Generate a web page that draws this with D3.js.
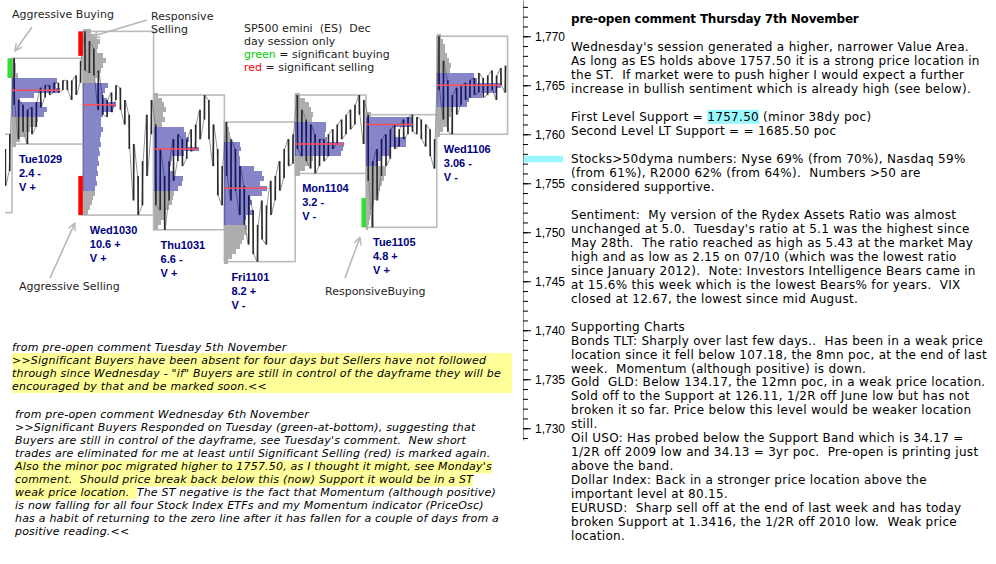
<!DOCTYPE html>
<html>
<head>
<meta charset="utf-8">
<script src="https://cdn.jsdelivr.net/npm/d3@7"></script>
<style>
  body { margin: 0; background: #fff; }
  svg { display: block; }
</style>
</head>
<body>
<div id="chart"></div>
<script>
// ES Dec day sessions, 16 bars per session
const days = ["Mon1028", "Tue1029", "Wed1030", "Thu1031", "Fri1101", "Mon1104", "Tue1105", "Wed1106"];
const dayHigh = [1760, 1767.75, 1770.5, 1764, 1761.25, 1764, 1762, 1770];
const dayLow = [1752, 1759, 1751.75, 1750.25, 1747, 1756, 1750.5, 1760];
const dayRange = ["", "2.4 -", "10.6 +", "6.6 -", "8.2 +", "3.2 -", "4.8 +", "3.06 -"];
const dayValue = ["", "V +", "V +", "V +", "V -", "V -", "V +", "V -"];

const barFirst = [14, 0, 0, 0, 0, 0, 0, 0];
const barHigh = [
  [1758.5, 1760],
  [1767.75, 1763.5, 1763, 1762.5, 1762.75, 1763.25, 1764.75, 1765, 1765, 1765.25, 1765.25, 1765.5, 1765.5, 1765.5, 1766, 1767.5],
  [1770.5, 1769.5, 1768.75, 1766.5, 1764, 1763.5, 1764.25, 1765, 1764.75, 1763.5, 1762, 1759, 1755.75, 1757.25, 1762, 1763.5],
  [1761, 1758.5, 1755.75, 1757.25, 1759.5, 1760, 1759.5, 1759.5, 1760.5, 1761, 1762.5, 1764, 1763.5, 1761, 1758.5, 1756.75],
  [1761.25, 1759.5, 1758.5, 1756.75, 1754.75, 1753.75, 1752.25, 1750.75, 1753.25, 1752.75, 1755.25, 1755.75, 1757.25, 1758.5, 1759.5, 1760],
  [1764, 1762.5, 1761.5, 1761, 1760, 1759.5, 1759.5, 1760, 1760.5, 1761, 1761.5, 1762, 1762.5, 1763, 1764, 1763.5],
  [1762, 1757.25, 1758.5, 1759.5, 1760, 1760.5, 1761, 1760.5, 1761.5, 1761.75, 1762, 1761.75, 1761.5, 1761, 1760.5, 1759.5],
  [1770, 1767.5, 1765.5, 1764, 1764.75, 1765, 1765.25, 1765.5, 1765.75, 1766.25, 1765.75, 1766, 1766.5, 1766, 1766.75, 1767]
];
const barLow = [
  [1754.75, 1756.25],
  [1763, 1759.5, 1760.25, 1759, 1760, 1760.75, 1762.75, 1763.75, 1764, 1764.25, 1764.25, 1764.5, 1764.5, 1763.5, 1764, 1765.25],
  [1766.5, 1766.25, 1766, 1762.5, 1762, 1761.75, 1762.25, 1763.5, 1762.5, 1761, 1758.5, 1753.25, 1751.75, 1752.75, 1755.75, 1760],
  [1752.75, 1752.25, 1750.25, 1753.25, 1755.25, 1757.25, 1756.75, 1757.5, 1758.25, 1758.5, 1759.5, 1761.5, 1759.5, 1756.75, 1753.75, 1752.75],
  [1755.75, 1753.25, 1754.25, 1751.75, 1750.75, 1748.75, 1747.75, 1747, 1749.25, 1748.75, 1751.75, 1753.25, 1754.25, 1755.5, 1756.75, 1757],
  [1758.5, 1757.75, 1757.25, 1756.5, 1756, 1756.75, 1757.25, 1757.75, 1758.5, 1759, 1759.5, 1760, 1760.5, 1761, 1762, 1759],
  [1755.25, 1750.5, 1753.25, 1755.75, 1756.75, 1757.5, 1758.5, 1758.75, 1759.5, 1760, 1760.25, 1760, 1759.5, 1758.75, 1757.75, 1756.5],
  [1764.5, 1761.5, 1760.25, 1760, 1762, 1763, 1763.5, 1763.75, 1764, 1764.25, 1763.75, 1764, 1764.5, 1763.5, 1765, 1764.25]
];

// market profile, half point rows from profileTop downwards
const profileTop = [null, 1767.5, 1770.5, 1764, 1761, 1764, 1762, 1770];
const profileVol = [
  [],
  [1.5, 2, 2, 3, 22.5, 22, 24, 11, 4, 15, 17.5, 16, 13, 12, 9, 7, 4, 2],
  [4, 7, 8.5, 7.5, 7, 10, 11.5, 10, 9, 7, 6, 12.5, 11, 10, 12, 16.5, 15, 10, 9, 9, 10, 9, 8.5, 9, 8, 8.5, 7.5, 8, 7, 7.5, 6.5, 7, 6, 6, 5, 4.5, 3.5, 2.5],
  [2, 4, 5, 6, 4.5, 5.5, 4, 15, 16, 17.5, 16.5, 22.5, 15, 9, 8.5, 8, 10, 14.5, 14, 12, 10, 9.5, 9, 7.5, 6, 5, 3.5, 2],
  [1.5, 2.5, 3, 3.5, 8, 8.5, 7.5, 8, 8, 15, 19, 20, 18, 21.5, 19, 13, 14, 13, 14.5, 11, 10, 11.5, 11, 10, 9, 8, 6, 4, 2],
  [2.5, 5, 7, 8, 9, 8.5, 15.5, 15.5, 15, 16, 24.5, 24, 23, 9, 7.5, 5, 2.5],
  [2.5, 23, 23.5, 14, 14, 20, 20, 12, 12, 7.5, 6, 10, 10, 9, 8, 7, 6, 5, 4, 3, 2.5, 2, 1.5, 1],
  [2, 3, 4, 4, 5, 6, 7, 6.5, 18.5, 20, 32, 30, 22.5, 16, 15, 8, 7, 6, 5, 3, 1.5]
];
const poc = [null, 1764.5, 1763, 1758.5, 1754.5, 1759, 1761, 1765];
const vaHigh = [null, 1765.75, 1765.25, 1760.75, 1759.25, 1761.25, 1761.75, 1766.25];
const vaLow = [null, 1761.75, 1754.25, 1754.25, 1750.75, 1757.75, 1756.75, 1762.75];

// significant buying / selling marks
const sigDay = ["Tue1029", "Wed1030", "Wed1030", "Tue1105"];
const sigTop = [1767.75, 1770.5, 1755.75, 1753.5];
const sigBottom = [1765.75, 1768, 1751.75, 1750.5];
const sigColor = ["#33dd33", "#ff0000", "#ff0000", "#33dd33"];

const priceTicks = d3.range(1729, 1774);
const priceLabels = d3.range(1730, 1771, 5);
const supportLevel = 1757.5;

const legendLines = ["SP500 emini  (ES)  Dec", "day session only", "green = significant buying", "red = significant selling"];

const noteTue = [
  "from pre-open comment Tuesday 5th November",
  ">>Significant Buyers have been absent for four days but Sellers have not followed",
  "through since Wednesday - \"if\" Buyers are still in control of the dayframe they will be",
  "encouraged by that and be marked soon.<<"
];
const noteWed = [
  "from pre-open comment Wednesday 6th November",
  ">>Significant Buyers Responded on Tuesday (green-at-bottom), suggesting that",
  "Buyers are still in control of the dayframe, see Tuesday's comment.  New short",
  "trades are eliminated for me at least until Significant Selling (red) is marked again.",
  "Also the minor poc migrated higher to 1757.50, as I thought it might, see Monday's",
  "comment.  Should price break back below this (now) Support it would be in a ST",
  "weak price location.  The ST negative is the fact that Momentum (although positive)",
  "is now falling for all four Stock Index ETFs and my Momentum indicator (PriceOsc)",
  "has a habit of returning to the zero line after it has fallen for a couple of days from a",
  "positive reading.<<"
];
const noteWedMarked = [0, 0, 0, 0, 82, 78, 22, 0, 0, 0];

const comment = [
  "pre-open comment Thursday 7th November",
  "",
  "Wednesday's session generated a higher, narrower Value Area.",
  "As long as ES holds above 1757.50 it is a strong price location in",
  "the ST.  If market were to push higher I would expect a further",
  "increase in bullish sentiment which is already high (see below).",
  "",
  "First Level Support = 1757.50 (minor 38dy poc)",
  "Second Level LT Support = = 1685.50 poc",
  "",
  "Stocks>50dyma numbers: Nyse 69% (from 70%), Nasdaq 59%",
  "(from 61%), R2000 62% (from 64%).  Numbers >50 are",
  "considered supportive.",
  "",
  "Sentiment:  My version of the Rydex Assets Ratio was almost",
  "unchanged at 5.0.  Tuesday's ratio at 5.1 was the highest since",
  "May 28th.  The ratio reached as high as 5.43 at the market May",
  "high and as low as 2.15 on 07/10 (which was the lowest ratio",
  "since January 2012).  Note: Investors Intelligence Bears came in",
  "at 15.6% this week which is the lowest Bears% for years.  VIX",
  "closed at 12.67, the lowest since mid August.",
  "",
  "Supporting Charts",
  "Bonds TLT: Sharply over last few days..  Has been in a weak price",
  "location since it fell below 107.18, the 8mn poc, at the end of last",
  "week.  Momentum (although positive) is down.",
  "Gold  GLD: Below 134.17, the 12mn poc, in a weak price location.",
  "Sold off to the Support at 126.11, 1/2R off June low but has not",
  "broken it so far. Price below this level would be weaker location",
  "still.",
  "Oil USO: Has probed below the Support Band which is 34.17 =",
  "1/2R off 2009 low and 34.13 = 3yr poc.  Pre-open is printing just",
  "above the band.",
  "Dollar Index: Back in a stronger price location above the",
  "important level at 80.15.",
  "EURUSD:  Sharp sell off at the end of last week and has today",
  "broken Support at 1.3416, the 1/2R off 2010 low.  Weak price",
  "location."
];

const width = 996, height = 564;

const svg = d3.select("#chart")
  .append("svg")
  .attr("width", width)
  .attr("height", height)
  .attr("viewBox", [0, 0, width, height]);

svg.append("rect").attr("width", width).attr("height", height).attr("fill", "#fff");

const x = d3.scaleBand()
  .domain(days)
  .range([-58.8, 507.6]);

const bx = d3.scaleLinear()
  .domain([0, 16])
  .range([0, x.bandwidth()]);

const y = d3.scaleLinear()
  .domain([1728.8, 1773.7])
  .range([440, 0]);

const w = d3.scaleLinear()
  .domain([0, 10])
  .range([0, 20]);

svg.append("clipPath").attr("id", "plot")
  .append("rect").attr("x", 5).attr("y", 0).attr("width", 511).attr("height", 340);

const plot = svg.append("g").attr("clip-path", "url(#plot)");

// day range boxes
plot.selectAll(".box")
  .data(days)
  .join("rect")
  .attr("class", "box")
  .attr("x", d => x(d))
  .attr("y", (d, i) => y(dayHigh[i]))
  .attr("width", x.bandwidth())
  .attr("height", (d, i) => y(dayLow[i]) - y(dayHigh[i]))
  .attr("fill", "none")
  .attr("stroke", "#bcbcbc")
  .attr("stroke-width", 1.6);

let rows = [];
days.forEach((d, i) => {
  profileVol[i].forEach((v, k) => {
    const p = profileTop[i] - 0.5 * k;
    rows.push({ day: d, p: p, v: v, va: p <= vaHigh[i] && p >= vaLow[i] });
  });
});

const rowRect = sel => sel
  .attr("x", d => x(d.day))
  .attr("y", d => y(d.p + 0.25))
  .attr("width", d => w(d.v))
  .attr("height", d => y(d.p - 0.25) - y(d.p + 0.25))
  .attr("shape-rendering", "crispEdges");

plot.append("g").selectAll("rect")
  .data(rows.filter(d => !d.va))
  .join("rect")
  .call(rowRect)
  .attr("fill", "#adadad");

// price bars
let bars = [];
days.forEach((d, i) => {
  barHigh[i].forEach((h, k) => {
    bars.push({ x: x(d) + bx(barFirst[i] + k + 0.5), hi: h, lo: barLow[i][k] });
  });
});

// zig-zag trace hi -> lo -> next hi gives the dense tick look
let zig = [];
bars.forEach((b, k) => {
  if (k % 2) { zig.push([b.x - 0.6, y(b.lo)], [b.x + 0.6, y(b.hi)]); }
  else { zig.push([b.x - 0.6, y(b.hi)], [b.x + 0.6, y(b.lo)]); }
});

plot.append("path")
  .datum(zig)
  .attr("fill", "none")
  .attr("stroke", "#7a7a7a")
  .attr("stroke-width", 0.8)
  .attr("d", d3.line());

plot.append("g").selectAll("line")
  .data(bars)
  .join("line")
  .attr("x1", b => b.x)
  .attr("x2", b => b.x)
  .attr("y1", b => y(b.hi))
  .attr("y2", b => y(b.lo))
  .attr("stroke", "#2a2a2a")
  .attr("stroke-width", 1.6);

// value area
plot.append("g").selectAll("rect")
  .data(rows.filter(d => d.va))
  .join("rect")
  .call(rowRect)
  .attr("fill", "#00008b")
  .attr("fill-opacity", 0.48);

// point of control
plot.append("g").selectAll("line")
  .data(days.filter((d, i) => poc[i] !== null))
  .join("line")
  .attr("x1", d => x(d))
  .attr("x2", d => x(d) + w(d3.max(profileVol[days.indexOf(d)])))
  .attr("y1", d => y(poc[days.indexOf(d)]))
  .attr("y2", d => y(poc[days.indexOf(d)]))
  .attr("stroke", "#ff4d5a")
  .attr("stroke-width", 1.5);

plot.append("g").selectAll("rect")
  .data(sigDay)
  .join("rect")
  .attr("x", d => x(d) - 4.5)
  .attr("y", (d, i) => y(sigTop[i]))
  .attr("width", 4.5)
  .attr("height", (d, i) => y(sigBottom[i]) - y(sigTop[i]))
  .attr("fill", (d, i) => sigColor[i]);

// day labels
const lab = svg.append("g")
  .attr("font-family", "Liberation Sans, Arial, sans-serif")
  .attr("font-weight", "bold")
  .attr("font-size", 11)
  .attr("fill", "#000080");

days.slice(1).forEach((d, j) => {
  const i = j + 1;
  const t = lab.append("text").attr("x", x(d) + 7).attr("y", y(dayLow[i]) + 19);
  [d, dayRange[i], dayValue[i]].forEach((s, k) => {
    t.append("tspan").attr("x", x(d) + 7).attr("dy", k ? 14 : 0).text(s);
  });
});

// annotations
svg.append("defs").append("marker")
  .attr("id", "arrow")
  .attr("viewBox", "0 0 10 10")
  .attr("refX", 9).attr("refY", 5)
  .attr("markerWidth", 9).attr("markerHeight", 9)
  .attr("markerUnits", "userSpaceOnUse")
  .attr("orient", "auto")
  .append("path")
  .attr("d", "M1,1 L9,5 L1,9")
  .attr("fill", "none")
  .attr("stroke", "#b8b8b8")
  .attr("stroke-width", 1.6);

const arrows = [
  [32, 27, x("Tue1029") + 3, y(1768.5)],
  [147, 20, x("Wed1030") + 10, y(1770)],
  [50, 278, x("Wed1030") - 8, y(1751.75) + 8],
  [345, 278, x("Tue1105") - 6, y(1750.5) + 10]
];
svg.append("g").selectAll("line")
  .data(arrows)
  .join("line")
  .attr("x1", d => d[0]).attr("y1", d => d[1])
  .attr("x2", d => d[2]).attr("y2", d => d[3])
  .attr("stroke", "#b8b8b8")
  .attr("stroke-width", 1.6)
  .attr("marker-end", "url(#arrow)");

const ann = svg.append("g")
  .attr("font-family", "DejaVu Sans, Verdana, sans-serif")
  .attr("font-size", 11)
  .attr("fill", "#1e1e1e");

const pre = t => t.attr("xml:space", "preserve").style("white-space", "pre");

ann.append("text").attr("x", 12).attr("y", 18).text("Aggressive Buying");
ann.append("text").attr("x", 151).attr("y", 20).text("Responsive");
ann.append("text").attr("x", 151).attr("y", 33).text("Selling");
ann.append("text").attr("x", 19).attr("y", 290).text("Aggressive Selling");
ann.append("text").attr("x", 325).attr("y", 295).text("ResponsiveBuying");

legendLines.forEach((s, k) => {
  const t = ann.append("text").attr("x", 244).attr("y", 32 + 13 * k).call(pre);
  if (k === 2) {
    t.append("tspan").attr("fill", "#00cc00").text("green");
    t.append("tspan").text(s.slice(5));
  } else if (k === 3) {
    t.append("tspan").attr("fill", "#ff0000").text("red");
    t.append("tspan").text(s.slice(3));
  } else {
    t.text(s);
  }
});

// price axis
svg.append("rect")
  .attr("x", 523)
  .attr("y", y(supportLevel) - 3)
  .attr("width", 40)
  .attr("height", 6.5)
  .attr("fill", "#99f8ff");

svg.append("g")
  .attr("transform", "translate(523,0)")
  .call(d3.axisRight(y).tickValues(priceTicks).tickSize(5).tickSizeOuter(0).tickFormat(""))
  .call(g => g.select(".domain").attr("stroke", "#8c8c8c"))
  .call(g => g.selectAll(".tick line").attr("stroke", "#000"));

svg.append("g")
  .attr("transform", "translate(523,0)")
  .call(d3.axisRight(y).tickValues(priceLabels).tickSize(8).tickPadding(4).tickFormat(d3.format(",")))
  .call(g => g.select(".domain").remove())
  .call(g => g.selectAll(".tick line").attr("stroke", "#000"))
  .call(g => g.selectAll("text")
    .attr("font-family", "Liberation Sans, Arial, sans-serif")
    .attr("font-size", 12)
    .attr("fill", "#000"));

// left comments
const left = svg.append("g")
  .attr("font-family", "DejaVu Sans, Verdana, sans-serif")
  .attr("font-size", 11)
  .attr("font-style", "italic")
  .attr("letter-spacing", 0.2)
  .attr("fill", "#000");

left.append("rect")
  .attr("x", 12).attr("y", 364 - 11)
  .attr("width", 500).attr("height", 13 * 3 + 1)
  .attr("fill", "#ffff99");

noteTue.forEach((s, k) => {
  left.append("text").attr("x", 12).attr("y", 351 + 13 * k).call(pre).text(s);
});

const hl = left.append("g");
noteWed.forEach((s, k) => {
  const t = left.append("text").attr("x", 15).attr("y", 418 + 13 * k).call(pre).text(s);
  const n = noteWedMarked[k];
  if (n > 0) {
    const len = t.node().getSubStringLength(0, Math.min(n, s.length));
    hl.append("rect")
      .attr("x", 15).attr("y", 418 + 13 * k - 9.5)
      .attr("width", len).attr("height", 13)
      .attr("fill", "#ffff99");
  }
});

// right comment
const right = svg.append("g")
  .attr("font-family", "DejaVu Sans, Verdana, sans-serif")
  .attr("font-size", 12)
  .attr("fill", "#000");

const rhl = right.append("g");
comment.forEach((s, k) => {
  const t = right.append("text")
    .attr("x", 571)
    .attr("y", 23 + 13.98 * k)
    .attr("font-weight", k === 0 ? "bold" : null)
    .attr("letter-spacing", k === 0 ? -0.2 : 0.3)
    .call(pre)
    .text(s);
  const at = s.indexOf("1757.50 (");
  if (at >= 0) {
    const x0 = t.node().getSubStringLength(0, at);
    const len = t.node().getSubStringLength(at, 7);
    rhl.append("rect")
      .attr("x", 571 + x0).attr("y", 23 + 13.98 * k - 11)
      .attr("width", len).attr("height", 14)
      .attr("fill", "#99f8ff");
  }
});
</script>
</body>
</html>
